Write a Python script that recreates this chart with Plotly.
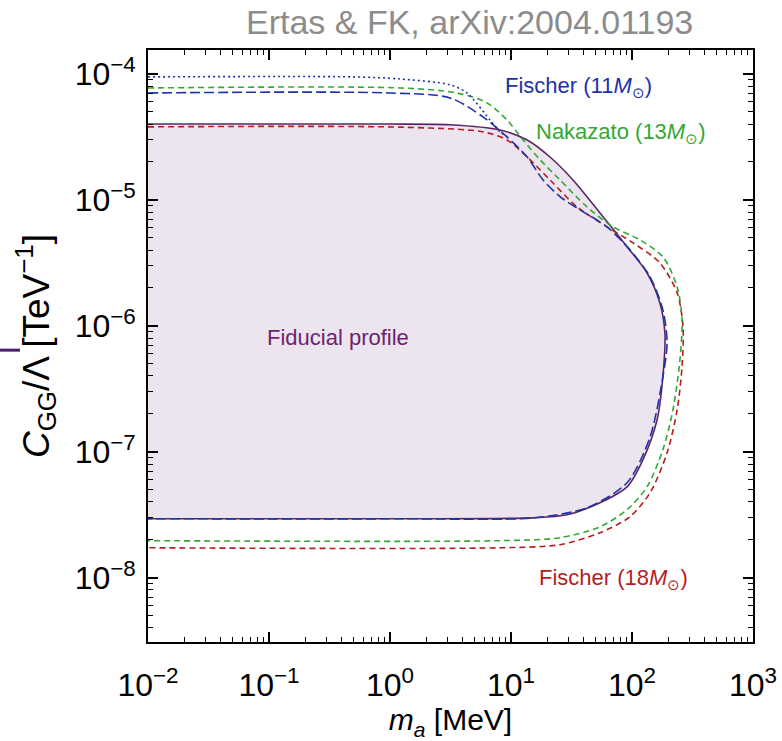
import plotly.graph_objects as go

# ---- data (m_a in MeV, C_GG/Lambda in TeV^-1) ----
fid_m = [0.01, 1.0, 3.13, 8.11, 13.6, 21.0, 32.5, 54.4, 91.0, 133, 170, 187, 180, 161, 123, 91.0, 54.4, 29.0, 15.2, 1.21, 0.01]
fid_c = [4.0e-5, 4.0e-5, 3.95e-5, 3.59e-5, 2.99e-5, 2.19e-5, 1.44e-5, 7.88e-6, 4.24e-6, 2.64e-6, 1.52e-6, 8.8e-7,
         3.94e-7, 1.79e-7, 8.64e-8, 5.27e-8, 3.94e-8, 3.16e-8, 2.99e-8, 2.94e-8, 2.94e-8]

f11_m = [0.01, 1.0, 3.13, 5.87, 9.27, 13.6, 18.4, 25.4, 37.2, 62.1, 96.2, 141, 180, 195, 180, 141, 91.0, 42.5, 15.2, 1.21, 0.01]
f11_c = [7.06e-5, 7.06e-5, 6.45e-5, 4.56e-5, 3.16e-5, 2.19e-5, 1.44e-5, 1.06e-5, 8.33e-6, 6.11e-6, 4.01e-6, 2.45e-6,
         1.34e-6, 7.32e-7, 3.94e-7, 1.31e-7, 5.68e-8, 3.6e-8, 2.99e-8, 2.94e-8, 2.94e-8]

f11b_m = [0.01, 0.5, 1.21, 3.13, 4.33, 6.70, 8.11, 9.27]
f11b_c = [9.47e-5, 9.47e-5, 9.12e-5, 8.2e-5, 7.06e-5, 4.31e-5, 3.47e-5, 3.16e-5]

n13_m = [0.01, 1.21, 3.58, 6.34, 9.27, 12.6, 17.4, 25.4, 42.5, 69.7, 116, 180, 236, 259, 249, 218, 180, 133, 91.0, 54.4, 25.4, 8.11, 0.01]
n13_c = [7.74e-5, 7.74e-5, 7.06e-5, 5.89e-5, 4.31e-5, 2.99e-5, 2.08e-5, 1.44e-5, 8.8e-6, 6.11e-6, 4.82e-6, 3.53e-6,
         2.04e-6, 1.12e-6, 5.37e-7, 2.15e-7, 1.04e-7, 5.27e-8, 3.47e-8, 2.54e-8, 2.08e-8, 1.97e-8, 1.97e-8]

f18_m = [0.01, 1.21, 5.87, 9.27, 13.6, 21.0, 35.1, 62.1, 102, 170, 236, 264, 259, 236, 195, 141, 96.2, 54.4, 25.4, 8.11, 0.01]
f18_c = [3.8e-5, 3.78e-5, 3.47e-5, 2.99e-5, 2.19e-5, 1.44e-5, 8.8e-6, 6.11e-6, 4.56e-6, 3.16e-6, 1.83e-6, 9.82e-7,
         4.73e-7, 2.15e-7, 9.82e-8, 4.73e-8, 3.05e-8, 2.28e-8, 1.83e-8, 1.73e-8, 1.73e-8]

x_tickvals = [1e-2, 1e-1, 1e0, 1e1, 1e2, 1e3]
x_ticktext = ["10<sup>−2</sup>", "10<sup>−1</sup>", "10<sup>0</sup>", "10<sup>1</sup>", "10<sup>2</sup>", "10<sup>3</sup>"]
y_tickvals = [1e-8, 1e-7, 1e-6, 1e-5, 1e-4]
y_ticktext = ["10<sup>−8</sup>", "10<sup>−7</sup>", "10<sup>−6</sup>", "10<sup>−5</sup>", "10<sup>−4</sup>"]

PURPLE = "#5b2565"
BLUE = "#1e32aa"
GREEN = "#33a833"
RED = "#b41e1e"
FONT = "Liberation Sans"

fig = go.Figure()
fig.add_trace(go.Scatter(x=fid_m, y=fid_c, mode="lines", fill="toself", fillcolor="rgb(236,228,238)",
                         line=dict(width=0, shape="spline", smoothing=0.8), hoverinfo="skip", showlegend=False))
fig.add_trace(go.Scatter(x=fid_m, y=fid_c, mode="lines", line=dict(color=PURPLE, width=1.6, shape="spline", smoothing=0.8),
                         showlegend=False))
fig.add_trace(go.Scatter(x=f18_m, y=f18_c, mode="lines",
                         line=dict(color=RED, width=1.6, dash="6px,4px", shape="spline", smoothing=0.8), showlegend=False))
fig.add_trace(go.Scatter(x=n13_m, y=n13_c, mode="lines",
                         line=dict(color=GREEN, width=1.6, dash="6px,4px", shape="spline", smoothing=0.8), showlegend=False))
fig.add_trace(go.Scatter(x=f11_m, y=f11_c, mode="lines",
                         line=dict(color=BLUE, width=1.6, dash="10px,4px", shape="spline", smoothing=0.8), showlegend=False))
fig.add_trace(go.Scatter(x=f11b_m, y=f11b_c, mode="lines",
                         line=dict(color=BLUE, width=1.6, dash="2px,3px", shape="spline", smoothing=0.8), showlegend=False))

axis_common = dict(
    type="log", tickmode="array", automargin=False,
    ticks="inside", ticklen=10, tickwidth=1.5, tickcolor="black",
    showline=True, linewidth=1.6, linecolor="black", mirror="ticks",
    showgrid=False, zeroline=False,
    minor=dict(ticks="inside", ticklen=5, tickwidth=1, tickcolor="black", dtick="D1", showgrid=False),
    tickfont=dict(family=FONT, size=32, color="black"),
)

fig.update_layout(
    width=782, height=741,
    margin=dict(l=148, r=29, t=50, b=99),
    paper_bgcolor="white", plot_bgcolor="white",
    font=dict(family=FONT, color="black"),
    xaxis=dict(axis_common, range=[-2, 3], tickvals=x_tickvals, ticktext=x_ticktext, ticklabelstandoff=14,
               title=dict(text="<i>m</i><sub><i>a</i></sub> [MeV]", font=dict(size=30, family=FONT), standoff=0)),
    yaxis=dict(axis_common, range=[-8.51, -3.81], tickvals=y_tickvals, ticktext=y_ticktext, ticklabelstandoff=4,
               title=dict(text="<i>C</i><sub>GG</sub>/Λ [TeV<sup>−1</sup>]", font=dict(size=37, family=FONT), standoff=14)),
)

ann = [
    dict(text="Ertas & FK, arXiv:2004.01193", x=0.532, y=1.047, size=34, color="#8c8c8c"),
    dict(text="Fischer (11<i>M</i><sub>⊙</sub>)", x=0.711, y=0.937, size=22, color=BLUE),
    dict(text="Nakazato (13<i>M</i><sub>⊙</sub>)", x=0.782, y=0.860, size=22, color=GREEN),
    dict(text="Fischer (18<i>M</i><sub>⊙</sub>)", x=0.769, y=0.106, size=22, color=RED),
    dict(text="Fiducial profile", x=0.314, y=0.514, size=22, color="#6e2370"),
]
for a in ann:
    fig.add_annotation(xref="paper", yref="paper", showarrow=False, xanchor="center", yanchor="middle",
                       text=a["text"], x=a["x"], y=a["y"],
                       font=dict(family=FONT, size=a["size"], color=a["color"]))

# small stray purple dash at the far left edge of the reference image
fig.add_shape(type="rect", xref="paper", yref="paper", xsizemode="pixel", ysizemode="pixel",
              xanchor=-0.2446, yanchor=0.493, x0=0, x1=20, y0=-1.5, y1=1.5,
              fillcolor="#4b1e6e", line=dict(width=0), layer="above")

fig.write_html("out.html")
